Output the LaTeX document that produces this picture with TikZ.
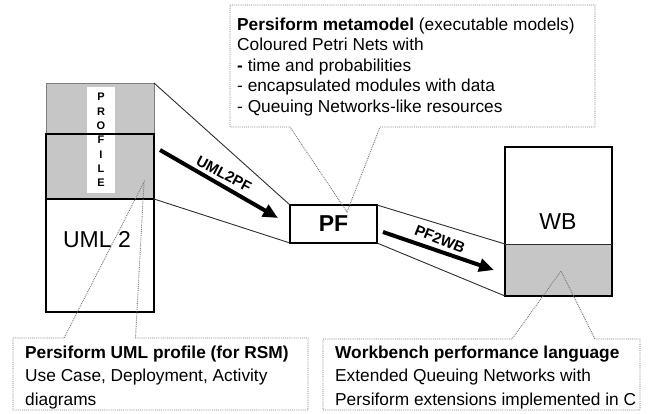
\documentclass[tikz,border=0pt]{standalone}
\usepackage{fontspec}
\setmainfont{Liberation Sans}
\usetikzlibrary{arrows.meta}
\definecolor{stipple}{RGB}{198,198,198}
\definecolor{linkcol}{RGB}{45,45,45}
\definecolor{calloutcol}{RGB}{120,120,120}
\definecolor{lightedge}{RGB}{125,125,125}
\begin{document}
\begin{tikzpicture}[x=1pt,y=-1pt,
  box/.style={draw=black,line width=1.3pt,inner sep=0pt,outer sep=0pt},
  graybox/.style={fill=stipple,inner sep=0pt,outer sep=0pt},
  link/.style={draw=linkcol,line width=0.9pt},
  bigarrow/.style={line width=4pt,-{Triangle[length=15pt,width=13pt]}},
  arrowlabel/.style={font=\fontsize{15}{15}\selectfont\bfseries,inner sep=0pt},
  callout/.style={draw=calloutcol,line width=0.9pt,densely dotted},
  calltext/.style={anchor=north west,align=left,inner sep=0pt},
  big/.style={font=\fontsize{23}{23}\selectfont,inner sep=0pt}
]
\useasboundingbox (0,0) rectangle (651,413);

% UML stack
\node[graybox,draw=lightedge,line width=0.9pt,minimum width=108pt,minimum height=51pt] (proftop) at (100,108.5) {};
\node[graybox,minimum width=108pt,minimum height=65pt] (profbot) at (100,166.5) {};
\node[fill=white,inner sep=0pt,minimum width=28pt,minimum height=106pt,align=center,
      font=\fontsize{11}{14.3}\selectfont\bfseries] (strip) at (101,140) {P\\R\\O\\F\\I\\L\\E};
\node[box,minimum width=108pt,minimum height=178pt] (uml) at (100,223) {};
\draw[black,line width=1.3pt] (profbot.south west) -- (profbot.south east);
\node[big] (umltext) at (97,240) {UML 2};

% PF
\node[box,minimum width=87pt,minimum height=38pt,font=\fontsize{23}{23}\selectfont\bfseries] (pf) at (333.5,224) {PF};

% WB
\node[graybox,minimum width=107pt,minimum height=52pt] (wbgray) at (558.5,270) {};
\node[box,line width=1.5pt,minimum width=107pt,minimum height=149pt] (wb) at (558.5,221.5) {};
\draw[linkcol,line width=0.9pt] (wbgray.north west) -- (wbgray.north east);
\node[big] (wbtext) at (558,222) {WB};

% trapezoid links
\draw[link] (proftop.north east) -- (pf.north west);
\draw[link] (profbot.south east) -- (pf.south west);
\draw[link] (pf.north east) -- (wbgray.north west);
\draw[link] (pf.south east) -- (wbgray.south west);

% transformation arrows
\coordinate (a1s) at (160,150);
\coordinate (a1e) at (278,218);
\draw[bigarrow] (a1s) -- (a1e);
\node[arrowlabel,rotate=-28] (l1) at (224,174) {UML2PF};
\coordinate (a2s) at (383,232);
\coordinate (a2e) at (494,270);
\draw[bigarrow] (a2s) -- (a2e);
\node[arrowlabel,rotate=-22] (l2) at (440,239) {PF2WB};

% callouts
\coordinate (apexpf) at (347,212);
\coordinate (apexuml) at (144,182);
\coordinate (apexwb) at (561,271);
\draw[callout] (230,5) -- (595,5) -- (595,127) -- (380,127) -- (apexpf) -- (290,127) -- (230,127) -- cycle;
\draw[callout] (13,338) -- (64,338) -- (apexuml) -- (135.5,338) -- (308,338) -- (308,410) -- (13,410) -- cycle;
\draw[callout] (323,339) -- (512,339) -- (apexwb) -- (595,339) -- (640,339) -- (640,410) -- (323,410) -- cycle;

\node[calltext,font=\fontsize{17.3}{20.6}\selectfont] (pftext) at (237,17.4)
  {\textbf{Persiform metamodel} (executable models)\\
   Coloured Petri Nets with\\
   \textbf{-} time and probabilities\\
   - encapsulated modules with data\\
   - Queuing Networks-like resources};
\node[calltext,font=\fontsize{17.3}{23.7}\selectfont] (umlnote) at (25,345.4)
  {\textbf{Persiform UML profile (for RSM)}\\
   Use Case, Deployment, Activity\\
   diagrams};
\node[calltext,font=\fontsize{17.3}{23.7}\selectfont] (wbnote) at (335,345.4)
  {\textbf{Workbench performance language}\\
   Extended Queuing Networks with\\
   Persiform extensions implemented in C};
\end{tikzpicture}
\end{document}
